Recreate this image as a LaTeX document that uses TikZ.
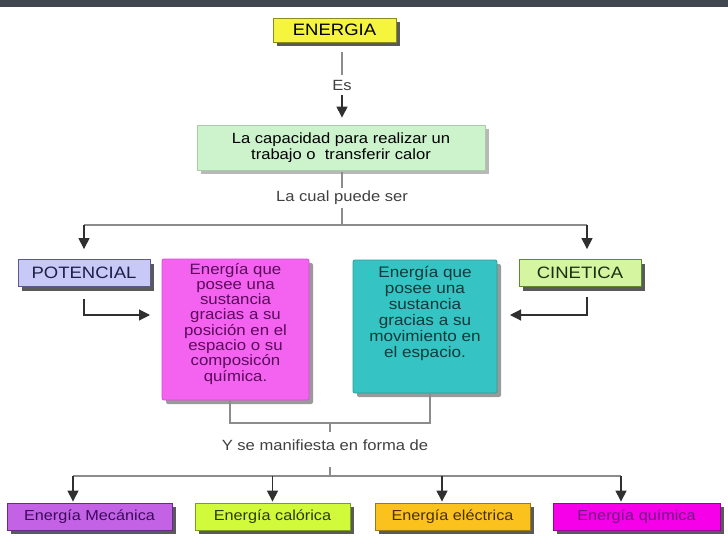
\documentclass[tikz,border=0pt]{standalone}
\usepackage{fontspec}
\setmainfont{Liberation Sans}[FakeStretch=1.12]
\usetikzlibrary{arrows.meta,shadows,calc}
\definecolor{bandgray}{HTML}{42464E}
\definecolor{yellowbox}{HTML}{F5F53D}
\definecolor{yellowline}{HTML}{8C8C1E}
\definecolor{shadowdark}{HTML}{5A5A5A}
\definecolor{shadowmid}{HTML}{9A9A9A}
\definecolor{shadowlight}{HTML}{B8B8B8}
\definecolor{greenbox}{HTML}{CDF3CD}
\definecolor{greenline}{HTML}{A8CCA8}
\definecolor{potbox}{HTML}{C9C9F7}
\definecolor{potline}{HTML}{5A5A8C}
\definecolor{pottext}{HTML}{1E1E46}
\definecolor{cinbox}{HTML}{D5F5A0}
\definecolor{cinline}{HTML}{5C8A2E}
\definecolor{cintext}{HTML}{1A3010}
\definecolor{pinkbox}{HTML}{F462F0}
\definecolor{pinkline}{HTML}{D84CD8}
\definecolor{pinktext}{HTML}{5A0A5A}
\definecolor{tealbox}{HTML}{36C3C3}
\definecolor{tealline}{HTML}{2A9C9C}
\definecolor{tealtext}{HTML}{0F3A3A}
\definecolor{mecbox}{HTML}{C462E6}
\definecolor{mecline}{HTML}{6A2A8A}
\definecolor{mectext}{HTML}{3A0A5A}
\definecolor{calbox}{HTML}{D0FA3A}
\definecolor{calline}{HTML}{7AA020}
\definecolor{caltext}{HTML}{2A3A0A}
\definecolor{elebox}{HTML}{FBC21E}
\definecolor{eleline}{HTML}{A07A10}
\definecolor{eletext}{HTML}{4A3000}
\definecolor{quibox}{HTML}{F500E8}
\definecolor{quiline}{HTML}{9A009A}
\definecolor{quitext}{HTML}{701880}
\definecolor{labgray}{HTML}{404040}
\definecolor{linegray}{HTML}{8C8C8C}
\definecolor{linedark}{HTML}{303030}
\begin{document}
\begin{tikzpicture}[x=1pt,y=-1pt,
  box/.style={draw, line width=0.8pt, inner sep=0pt, align=center},
  shd/.style={drop shadow={shadow xshift=4pt, shadow yshift=-4pt, fill=#1, opacity=1}},
  ln/.style={draw=linegray, line width=1.1pt},
  arr/.style={draw=linedark, line width=1.1pt, -{Triangle[width=11pt,length=11pt]}},
  lbl/.style={text=labgray, font=\fontsize{14.8}{16}\selectfont, inner sep=0pt},
  capfont/.style={font=\fontsize{16.5}{18}\selectfont},
  botbox/.style={box, shd=shadowdark, minimum height=27pt, font=\fontsize{14.5}{16}\selectfont}
]
\useasboundingbox (0,0) rectangle (728,546);
\fill[white] (0,0) rectangle (728,546);
\fill[bandgray] (0,0) rectangle (728,7);

% boxes
\node[box, shd=shadowdark, fill=yellowbox, draw=yellowline, minimum width=123pt, minimum height=24pt, capfont] (energia) at (334.5,30) {ENERGIA};
\node[lbl, minimum height=20pt] (es) at (342,85) {Es};
\node[box, shd=shadowlight, fill=greenbox, draw=greenline, minimum width=288pt, minimum height=45pt, font=\fontsize{14.8}{15.5}\selectfont] (green) at (341,147.5) {La capacidad para realizar un\\trabajo o~ transferir calor};
\node[lbl, minimum height=20pt] (cual) at (342,198) {La cual puede ser};

\node[box, shd=shadowdark, fill=potbox, draw=potline, text=pottext, minimum width=132pt, minimum height=27pt, capfont] (pot) at (84,273) {POTENCIAL};
\node[box, shd=shadowdark, fill=cinbox, draw=cinline, text=cintext, minimum width=122pt, minimum height=27pt, capfont] (cin) at (580,273) {CINETICA};

\node[box, rounded corners=2pt, shd=shadowmid, fill=pinkbox, draw=pinkline, text=pinktext, minimum width=147pt, minimum height=141pt] (pink) at (235.5,329.5)
  {\parbox[c][141pt][t]{147pt}{\vspace*{4pt}\centering\fontsize{15}{15.3}\selectfont Energía que\\posee una\\sustancia\\gracias a su\\posición en el\\espacio o su\\composicón\\química.}};
\node[box, rounded corners=2pt, shd=shadowmid, fill=tealbox, draw=tealline, text=tealtext, minimum width=144pt, minimum height=133pt] (teal) at (425,326.5)
  {\parbox[c][133pt][t]{144pt}{\vspace*{6pt}\centering\fontsize{15.3}{16}\selectfont Energía que\\posee una\\sustancia\\gracias a su\\movimiento en\\el espacio.}};

\node[lbl, minimum height=26pt] (manif) at (325,445) {Y se manifiesta en forma de};

\node[botbox, fill=mecbox, draw=mecline, text=mectext, minimum width=165pt] (mec) at (89.5,516.5) {Energía Mecánica};
\node[botbox, fill=calbox, draw=calline, text=caltext, minimum width=155pt] (cal) at (272.5,516.5) {Energía calórica};
\node[botbox, fill=elebox, draw=eleline, text=eletext, minimum width=155pt] (ele) at (452.5,516.5) {Energía eléctrica};
\node[botbox, fill=quibox, draw=quiline, text=quitext, minimum width=167pt] (qui) at (636.5,516.5) {Energía química};

% junction and attachment points
\coordinate (split) at (342,225);
\coordinate (j1) at (330,423);
\coordinate (j2) at (330,476);
\coordinate (pa) at (162,315);
\coordinate (ca) at (497,315);
\coordinate (cinN) at ([xshift=7pt]cin.north);
\coordinate (cinS) at ([xshift=7pt]cin.south);
\coordinate (pinkS) at ([xshift=-5.5pt]pink.south);
\coordinate (tealS) at ([xshift=5pt]teal.south);
\coordinate (mecN) at ([xshift=-16.5pt]mec.north);
\coordinate (eleN) at ([xshift=-10.5pt]ele.north);
\coordinate (quiN) at ([xshift=-15.5pt]qui.north);
\coordinate (energiaS) at ([yshift=-10pt]energia.south);
\coordinate (greenS) at ([yshift=-2pt]green.south);
\coordinate (manifS) at ([yshift=-9pt]manif.south);

% connectors
\draw[ln] (energiaS -| es.north) -- (es.north);
\draw[arr, shorten >=7pt] (es.south) -- (es.south |- green.north);
\draw[ln] (greenS -| cual.north) -- (cual.north);
\draw[ln] (cual.south) -- (split);
\draw[ln] (split -| pot.north) -- (split -| cinN);
\draw[arr, shorten >=10pt] (split -| pot.north) -- (pot.north);
\draw[arr, shorten >=10pt] (split -| cinN) -- (cinN);

\draw[arr, shorten <=12pt, shorten >=12pt] (pot.south) |- (pa);
\draw[arr, shorten <=10pt, shorten >=13pt] (cinS) |- (ca);

\draw[ln] (pinkS) |- (j1) -| (tealS);
\draw[ln] (j1) -- (j1 |- manif.north);
\draw[ln] (manifS -| j2) -- (j2);
\draw[ln] (mecN |- j2) -- (quiN |- j2);
\draw[arr, shorten >=1pt] (mecN |- j2) -- (mecN);
\draw[arr, shorten >=1pt] (cal.north |- j2) -- (cal.north);
\draw[arr, shorten >=1pt] (eleN |- j2) -- (eleN);
\draw[arr, shorten >=1pt] (quiN |- j2) -- (quiN);
\end{tikzpicture}
\end{document}
